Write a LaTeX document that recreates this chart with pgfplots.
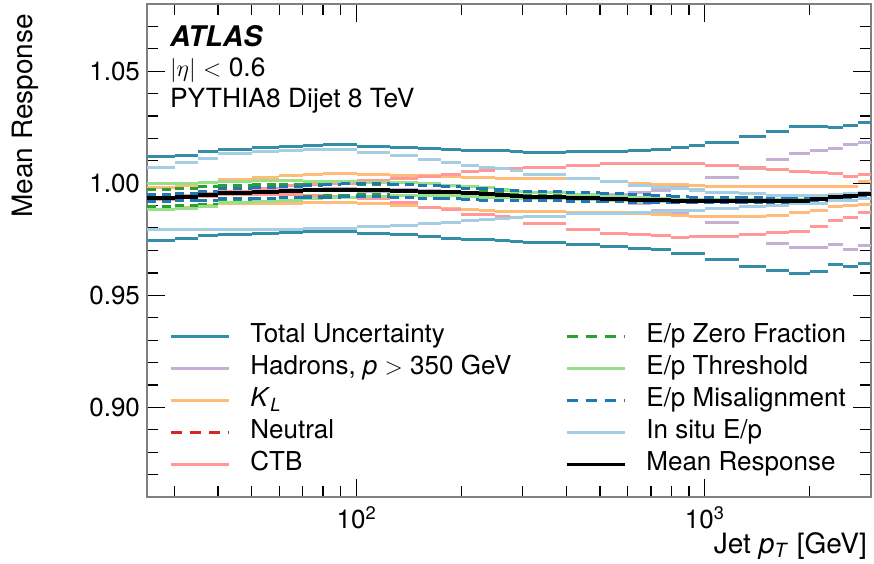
\documentclass[border=0pt]{standalone}
\usepackage{fontspec}
\setmainfont{TeX Gyre Heros}
\usepackage{pgfplots}
\usepackage{pgfplotstable}
\pgfplotsset{compat=1.18}
\usetikzlibrary{calc}
\definecolor{ctot}{RGB}{52,142,170}
\definecolor{chad}{HTML}{C5B0D5}
\definecolor{ckl}{HTML}{FFBB78}
\definecolor{cneu}{HTML}{D62728}
\definecolor{cctb}{HTML}{FF9896}
\definecolor{czf}{HTML}{2CA02C}
\definecolor{cth}{HTML}{98DF8A}
\definecolor{cmis}{HTML}{1F77B4}
\definecolor{cins}{HTML}{A6CEE3}

\pgfplotstableread{
x mean totU totD hadU hadD klU klD neuU neuD ctbU ctbD zfU zfD thU thD misU misD insU insD
25 .9933 1.0121 .9745 .9937 .9929 .9982 .9883 .9935 .9931 .9938 .9928 .9972 .9898 .9997 .9885 .9948 .9920 1.0071 .9792
30 .9940 1.0125 .9754 .9944 .9936 .9990 .9893 .9942 .9938 .9945 .9935 .9978 .9900 .9998 .9887 .9955 .9922 1.0092 .9792
35 .9948 1.0143 .9765 .9952 .9944 1.0005 .9903 .9950 .9946 .9953 .9943 .9985 .9905 1.0002 .9896 .9962 .9924 1.0112 .9792
40 .9955 1.0150 .9772 .9959 .9951 1.0016 .9909 .9957 .9953 .9962 .9948 .9992 .9920 1.0010 .9912 .9975 .9930 1.0132 .9792
50 .9962 1.0160 .9777 .9966 .9958 1.0027 .9910 .9964 .9960 .9975 .9950 .9993 .9930 1.0012 .9920 .9980 .9932 1.0141 .9794
60 .9967 1.0166 .9781 .9971 .9963 1.0035 .9911 .9969 .9965 .9988 .9948 .9995 .9935 1.0012 .9925 .9985 .9935 1.0148 .9795
70 .9970 1.0170 .9783 .9974 .9966 1.0040 .9913 .9972 .9968 .9995 .9945 .9995 .9940 1.0010 .9930 .9990 .9936 1.0152 .9797
80 .9971 1.0171 .9783 .9975 .9967 1.0042 .9915 .9973 .9969 .9998 .9940 .9997 .9944 1.0008 .9935 .9995 .9938 1.0152 .9799
90 .9971 1.0171 .9783 .9975 .9967 1.0042 .9916 .9973 .9969 1.0000 .9935 .9997 .9946 1.0007 .9938 .9997 .9940 1.0150 .9800
100 .9969 1.0166 .9777 .9973 .9965 1.0040 .9911 .9971 .9967 1.0012 .9930 .9995 .9948 1.0005 .9942 .9998 .9940 1.0136 .9805
125 .9966 1.0158 .9770 .9970 .9962 1.0036 .9900 .9968 .9964 1.0020 .9915 .9993 .9947 1.0002 .9944 .9993 .9936 1.0122 .9811
150 .9963 1.0155 .9762 .9967 .9959 1.0033 .9892 .9965 .9961 1.0030 .9890 .9988 .9945 .9998 .9946 .9988 .9933 1.0108 .9819
175 .9960 1.0152 .9755 .9964 .9956 1.0030 .9888 .9962 .9958 1.0040 .9881 .9984 .9942 .9992 .9945 .9985 .9930 1.0094 .9826
200 .9955 1.0146 .9750 .9959 .9951 1.0028 .9881 .9957 .9953 1.0052 .9862 .9975 .9937 .9985 .9942 .9978 .9926 1.0079 .9834
225 .9950 1.0146 .9748 .9954 .9946 1.0027 .9878 .9952 .9948 1.0055 .9860 .9970 .9933 .9980 .9938 .9975 .9924 1.0070 .9838
250 .9946 1.0146 .9745 .9950 .9942 1.0023 .9876 .9948 .9944 1.0064 .9851 .9962 .9931 .9970 .9935 .9970 .9923 1.0067 .9844
275 .9943 1.0141 .9742 .9947 .9939 1.0022 .9875 .9945 .9941 1.0066 .9848 .9958 .9930 .9965 .9933 .9967 .9922 1.0055 .9846
300 .9938 1.0138 .9735 .9942 .9934 1.0022 .9872 .9940 .9936 1.0072 .9820 .9948 .9928 .9958 .9930 .9963 .9922 1.0041 .9851
400 .9935 1.0142 .9727 .9942 .9930 1.0020 .9868 .9937 .9933 1.0080 .9792 .9943 .9927 .9950 .9928 .9960 .9920 1.0020 .9866
500 .9930 1.0144 .9716 .9948 .9922 1.0007 .9868 .9932 .9928 1.0089 .9778 .9936 .9924 .9943 .9925 .9955 .9918 1.0007 .9866
600 .9926 1.0145 .9707 .9958 .9908 .9997 .9863 .9928 .9924 1.0090 .9770 .9932 .9920 .9935 .9920 .9948 .9915 .9988 .9870
700 .9924 1.0152 .9703 .9968 .9880 .9996 .9862 .9926 .9922 1.0090 .9768 .9930 .9918 .9930 .9919 .9945 .9913 .9980 .9876
800 .9923 1.0160 .9688 .9985 .9866 .9993 .9855 .9925 .9921 1.0087 .9760 .9929 .9917 .9927 .9919 .9940 .9912 .9977 .9880
900 .9923 1.0167 .9687 .9992 .9851 .9991 .9851 .9925 .9921 1.0087 .9764 .9929 .9917 .9927 .9919 .9938 .9912 .9970 .9880
1000 .9923 1.0183 .9660 1.0027 .9824 .9984 .9850 .9925 .9921 1.0080 .9764 .9929 .9917 .9927 .9919 .9935 .9912 .9961 .9887
1250 .9923 1.0207 .9630 1.0066 .9770 .9984 .9850 .9925 .9921 1.0070 .9773 .9929 .9917 .9927 .9919 .9935 .9912 .9954 .9895
1500 .9923 1.0233 .9610 1.0104 .9732 .9984 .9858 .9925 .9921 1.0061 .9779 .9929 .9917 .9927 .9919 .9935 .9912 .9947 .9902
1750 .9923 1.0254 .9596 1.0135 .9714 .9984 .9868 .9925 .9921 1.0053 .9784 .9929 .9917 .9927 .9919 .9935 .9912 .9945 .9910
2000 .9931 1.0254 .9607 1.0148 .9714 .9984 .9880 .9933 .9929 1.0050 .9809 .9934 .9928 .9934 .9928 .9940 .9920 .9945 .9910
2250 .9938 1.0249 .9637 1.0156 .9725 .9984 .9895 .9940 .9936 1.0043 .9836 .9941 .9935 .9940 .9936 .9945 .9928 .9952 .9924
2500 .9941 1.0260 .9630 1.0175 .9706 .9984 .9900 .9943 .9939 1.0031 .9847 .9944 .9938 .9943 .9939 .9950 .9932 .9954 .9924
2750 .9953 1.0270 .9642 1.0183 .9724 1.0010 .9907 .9955 .9951 1.0039 .9868 .9956 .9950 .9955 .9951 .9958 .9942 .9961 .9932
3000 .9953 1.0270 .9642 1.0183 .9724 1.0010 .9907 .9955 .9951 1.0039 .9868 .9956 .9950 .9955 .9951 .9958 .9942 .9961 .9932
}\data

\begin{document}
\begin{tikzpicture}
\begin{axis}[
  name=ax,
  scale only axis,
  width=362pt, height=246.5pt,
  xmode=log,
  xmin=25, xmax=3000, ymin=0.86, ymax=1.08,
  xtick={100,1000},
  xticklabels={10\textsuperscript{2},10\textsuperscript{3}},
  minor xtick={30,40,50,60,70,80,90,200,300,400,500,600,700,800,900,2000},
  ytick={0.90,0.95,1.00,1.05},
  minor ytick={0.87,0.88,0.89,0.91,0.92,0.93,0.94,0.96,0.97,0.98,0.99,1.01,1.02,1.03,1.04,1.06,1.07},
  /pgf/number format/assume math mode=true,
  yticklabel style={/pgf/number format/fixed,/pgf/number format/fixed zerofill,/pgf/number format/precision=2},
  xticklabel style={yshift=-1.2pt},
  tick label style={font=\fontsize{13}{15}\selectfont, black},
  tick pos=both, tick align=inside,
  major tick length=9pt, minor tick length=5.5pt,
  every tick/.style={black, line width=0.6pt},
  axis line style={black!50, line width=0.8pt},
  xlabel={Jet \textit{p}\textsubscript{\textit{T}} [GeV]},
  ylabel={Mean Response},
  label style={font=\fontsize{14}{16}\selectfont},
  xlabel style={at={(axis description cs:1.004,-0.1136)}, anchor=base east},
  ylabel style={at={(axis description cs:-0.1575,0.994)}, anchor=base east},
  legend image code/.code={\draw[#1] (0pt,0pt) -- (29pt,0pt);},
  legend columns=2,
  legend style={at={(axis description cs:0.0304,0.352)}, anchor=north west,
    draw=none, fill=none, inner sep=0pt,
    font=\fontsize{13}{15}\selectfont,
    cells={anchor=west},
    nodes={inner sep=0pt, text height=9.5pt, text depth=3pt},
    row sep=3.5pt,
    /tikz/every odd column/.append style={column sep=10pt},
    /tikz/every even column/.append style={column sep=17.5pt}},
]
% legend (row-wise order)
\addlegendimage{ctot, line width=1.5pt}
\addlegendentry{\makebox[140pt][l]{Total Uncertainty}}
\addlegendimage{czf, line width=1.5pt, dash pattern=on 5.5pt off 4pt}
\addlegendentry{E/p Zero Fraction}
\addlegendimage{chad, line width=1.5pt}
\addlegendentry{\makebox[140pt][l]{Hadrons, \textit{p} $>$ 350 GeV}}
\addlegendimage{cth, line width=1.5pt}
\addlegendentry{E/p Threshold}
\addlegendimage{ckl, line width=1.5pt}
\addlegendentry{\makebox[140pt][l]{\textit{K}\textsubscript{\textit{L}}}}
\addlegendimage{cmis, line width=1.5pt, dash pattern=on 5.5pt off 4pt}
\addlegendentry{E/p Misalignment}
\addlegendimage{cneu, line width=1.5pt, dash pattern=on 5.5pt off 4pt}
\addlegendentry{\makebox[140pt][l]{Neutral}}
\addlegendimage{cins, line width=1.5pt}
\addlegendentry{In situ E/p}
\addlegendimage{cctb, line width=1.5pt}
\addlegendentry{\makebox[140pt][l]{CTB}}
\addlegendimage{black, line width=1.5pt}
\addlegendentry{Mean Response}

\pgfplotsset{hst/.style={jump mark left, line width=1.5pt, forget plot}}
\addplot[hst, ctot] table[x=x,y=totU]{\data};
\addplot[hst, ctot] table[x=x,y=totD]{\data};
\addplot[hst, chad] table[x=x,y=hadU]{\data};
\addplot[hst, chad] table[x=x,y=hadD]{\data};
\addplot[hst, ckl] table[x=x,y=klU]{\data};
\addplot[hst, ckl] table[x=x,y=klD]{\data};
\addplot[hst, cneu, dash pattern=on 4.5pt off 3pt] table[x=x,y=neuU]{\data};
\addplot[hst, cneu, dash pattern=on 4.5pt off 3pt] table[x=x,y=neuD]{\data};
\addplot[hst, cctb] table[x=x,y=ctbU]{\data};
\addplot[hst, cctb] table[x=x,y=ctbD]{\data};
\addplot[hst, czf, dash pattern=on 4.5pt off 3pt] table[x=x,y=zfU]{\data};
\addplot[hst, czf, dash pattern=on 4.5pt off 3pt] table[x=x,y=zfD]{\data};
\addplot[hst, cth] table[x=x,y=thU]{\data};
\addplot[hst, cth] table[x=x,y=thD]{\data};
\addplot[hst, cmis, dash pattern=on 4.5pt off 3pt] table[x=x,y=misU]{\data};
\addplot[hst, cmis, dash pattern=on 4.5pt off 3pt] table[x=x,y=misD]{\data};
\addplot[hst, cins] table[x=x,y=insU]{\data};
\addplot[hst, cins] table[x=x,y=insD]{\data};
\addplot[hst, black, line width=2pt] table[x=x,y=mean]{\data};

\node[anchor=base west, font=\fontsize{14.2}{16}\selectfont] at (axis description cs:0.0221,0.9128) {\textbf{\textit{ATLAS}}};
\node[anchor=base west, font=\fontsize{13.2}{15}\selectfont] at (axis description cs:0.0221,0.852) {$|\eta|$ $<$ 0.6};
\node[anchor=base west, font=\fontsize{13.2}{15}\selectfont] at (axis description cs:0.0221,0.791) {PYTHIA8 Dijet 8 TeV};
\end{axis}
\pgfresetboundingbox
\path[use as bounding box] ($(ax.south west)+(-73.5pt,-33pt)$) rectangle ($(ax.north east)+(1.5pt,2pt)$);
\end{tikzpicture}
\end{document}
